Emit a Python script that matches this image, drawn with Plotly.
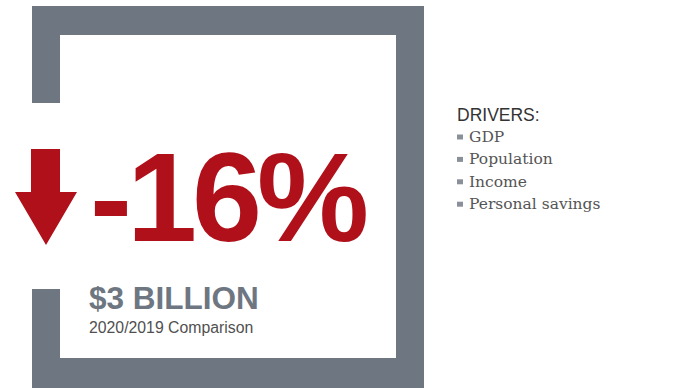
import plotly.graph_objects as go

# Figures shown in the panel
pct_change = -16
amount_label = "$3 BILLION"
period_label = "2020/2019 Comparison"
drivers_title = "DRIVERS:"
drivers = ["GDP", "Population", "Income", "Personal savings"]

W, H = 681, 388
GRAY = "#6E7781"
RED = "#B0101A"

fig = go.Figure()

shapes = []


def rect(x0, y0, x1, y1, color):
    shapes.append(dict(type="rect", xref="x", yref="y", x0=x0, y0=y0, x1=x1, y1=y1,
                       fillcolor=color, line=dict(width=0), layer="below"))


# Open frame around the headline figure
rect(32, 6, 424, 35, GRAY)      # top
rect(396, 6, 424, 388, GRAY)    # right
rect(32, 358, 424, 388, GRAY)   # bottom
rect(32, 6, 60, 103, GRAY)      # left, upper piece
rect(32, 289, 60, 388, GRAY)    # left, lower piece

# Down arrow
shapes.append(dict(type="path", xref="x", yref="y",
                   path="M31,149 L60,149 L60,192 L77,192 L46,245 L15,192 L31,192 Z",
                   fillcolor=RED, line=dict(width=0)))

# Bullet squares for the drivers list
list_y0, list_step = 137, 22.4
for i, _ in enumerate(drivers):
    yc = list_y0 + i * list_step
    rect(457, yc - 2.5, 463, yc + 2.5, "#8A9099")

# Headline percentage with tight tracking
headline = f"{pct_change}%"
annotations = [
    dict(text=f'<span style="letter-spacing:-5px">{headline}</span>',
         x=89, y=197.5, xanchor="left", yanchor="middle",
         font=dict(family="Liberation Sans, Arial", size=126, color=RED, weight="bold")),
    dict(text=amount_label, x=88, y=297.5, xanchor="left", yanchor="middle",
         font=dict(family="Liberation Sans, Arial", size=31.5, color=GRAY, weight="bold")),
    dict(text=period_label, x=88, y=327, xanchor="left", yanchor="middle",
         font=dict(family="Liberation Sans, Arial", size=15.8, color="#505050")),
    dict(text=drivers_title, x=456, y=114.5, xanchor="left", yanchor="middle",
         font=dict(family="Liberation Sans, Arial", size=17.5, color="#333333")),
]
for i, name in enumerate(drivers):
    annotations.append(dict(text=name, x=468, y=list_y0 + i * list_step,
                            xanchor="left", yanchor="middle",
                            font=dict(family="DejaVu Serif", size=15.5, color="#555555")))

for a in annotations:
    a.update(xref="x", yref="y", showarrow=False, borderpad=0)

fig.update_layout(
    width=W, height=H,
    margin=dict(l=0, r=0, t=0, b=0),
    paper_bgcolor="white", plot_bgcolor="white",
    xaxis=dict(range=[0, W], visible=False, fixedrange=True),
    yaxis=dict(range=[H, 0], visible=False, fixedrange=True),
    shapes=shapes,
    annotations=annotations,
    showlegend=False,
)

fig.write_html("out.html", config={"displayModeBar": False})
